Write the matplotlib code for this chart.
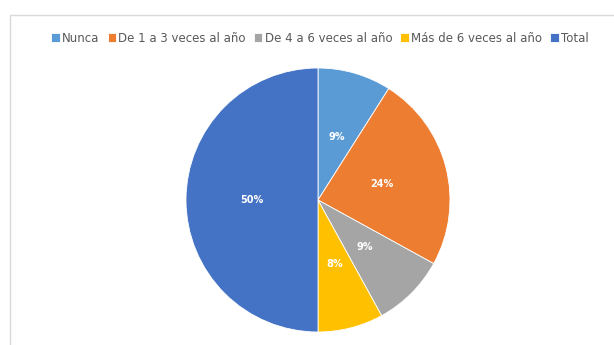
import matplotlib.pyplot as plt
from matplotlib.patches import Rectangle

categories = ['Nunca', 'De 1 a 3 veces al año', 'De 4 a 6 veces al año',
              'Más de 6 veces al año', 'Total']
values = [9, 24, 9, 8, 50]
colors = ['#5B9BD5', '#ED7D31', '#A5A5A5', '#FFC000', '#4472C4']

W, H = 614, 345
fig = plt.figure(figsize=(W / 100, H / 100), dpi=100)
fig.patch.set_facecolor('white')

# chart frame (runs off the right and bottom edges)
fig.patches.append(Rectangle((10 / W, -0.05), 1.0, (H - 15) / H + 0.05,
                             transform=fig.transFigure, facecolor='none',
                             edgecolor='#D9D9D9', linewidth=1.0, zorder=-1))

# pie area: centre (318, 200) px, radius 132 px
cx, cy, r = 318, 200, 132
ax = fig.add_axes([(cx - r) / W, (H - cy - r) / H, 2 * r / W, 2 * r / H])
wedges, texts = ax.pie(values, colors=colors, startangle=90, counterclock=False,
                       labels=[f'{v}%' for v in values], labeldistance=0.5,
                       wedgeprops=dict(edgecolor='white', linewidth=0.6),
                       textprops=dict(color='white', fontsize=7, fontweight='bold',
                                      ha='center', va='center'))
ax.set_aspect('equal')
ax.set_xlim(-1, 1)
ax.set_ylim(-1, 1)

fig.legend(wedges, categories, loc='center', bbox_to_anchor=(320 / W, 1 - 38 / H),
           ncol=5, frameon=False, handlelength=0.7, handleheight=0.7,
           handletextpad=0.2, columnspacing=0.7,
           prop=dict(family=['Liberation Sans Narrow', 'DejaVu Sans'], size=8.5),
           labelcolor='#595959')

fig.savefig('out.png', dpi=100)
